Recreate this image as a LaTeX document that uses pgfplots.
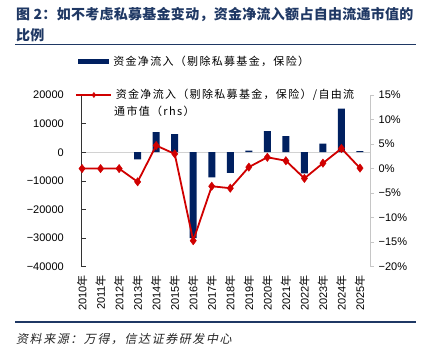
\documentclass[border=0pt]{standalone}
\usepackage{pgfplots}
\pgfplotsset{compat=1.18}
\usepackage{fontspec}
\setmainfont{Liberation Sans}
\newfontfamily\cjk{Noto Sans CJK SC}
\newfontfamily\cjkt[LetterSpace=2]{Noto Sans CJK SC}
\newfontfamily\cjkl[LetterSpace=12]{Noto Sans CJK SC}
\newfontfamily\cjkit[FakeSlant=0.2,LetterSpace=13]{Noto Sans CJK SC}
\definecolor{navy}{HTML}{002060}
\definecolor{redline}{HTML}{D00000}
\definecolor{titleblue}{HTML}{1F3864}
\newcommand{\nian}{{\cjk 年}}
\pgfplotsset{
  redlegend/.style={legend image code/.code={\draw[##1, mark size=2.6bp, mark repeat=2, mark phase=2] plot coordinates {(0bp,0bp) (18bp,0bp) (35bp,0bp)};}}
}
\begin{document}
\begin{tikzpicture}
\path[use as bounding box] (0,0) rectangle (428bp,351bp);
\node[anchor=west, inner sep=0pt, text=titleblue, font={\cjkt\bfseries\fontsize{14bp}{17bp}\selectfont}] at (16bp,336bp) {图 2：如不考虑私募基金变动，资金净流入额占自由流通市值的};
\node[anchor=west, inner sep=0pt, text=titleblue, font={\cjkt\bfseries\fontsize{14bp}{17bp}\selectfont}] at (16bp,316bp) {比例};
\draw[titleblue, line width=1.5bp] (15bp,306.3bp) -- (416bp,306.3bp);
\draw[titleblue, line width=1.5bp] (15bp,29bp) -- (416bp,29bp);
\node[anchor=west, inner sep=0pt, text=black!85, font={\cjkit\fontsize{12bp}{14bp}\selectfont}] at (16bp,12bp) {资料来源：万得，信达证券研发中心};

\begin{axis}[
  at={(81.5bp,84.3bp)}, anchor=south west, scale only axis,
  width=288.5bp, height=171.7bp,
  xmin=-0.03, xmax=15.54, ymin=-40000, ymax=20000,
  scaled y ticks=false,
  axis y line*=left, axis x line*=bottom,
  x axis line style={draw=none},
  y axis line style={draw=black!80, line width=0.6bp},
  ytick={-40000,-30000,-20000,-10000,0,10000,20000},
  yticklabels={−40000,−30000,−20000,−10000,0,10000,20000},
  xtick={0,...,15},
  xticklabels={2010\nian,2011\nian,2012\nian,2013\nian,2014\nian,2015\nian,2016\nian,2017\nian,2018\nian,2019\nian,2020\nian,2021\nian,2022\nian,2023\nian,2024\nian,2025\nian},
  x tick style={draw=none},
  y tick style={draw=black!80, line width=0.6bp},
  tick align=inside, major tick length=4bp,
  yticklabel style={inner sep=0pt, font=\fontsize{11bp}{13bp}\selectfont, anchor=east},
  yticklabel shift=17.5bp,
  xticklabel style={inner sep=0pt, font=\fontsize{11bp}{13bp}\selectfont, rotate=90, anchor=east},
  xticklabel shift=8.3bp,
  extra y ticks={0}, extra y tick labels={},
  extra y tick style={grid=major, major grid style={gray!35, line width=0.8bp}, tick style={draw=none}},
  legend style={at={(-0.0111,1.194)}, anchor=west, draw=none, fill=none, inner sep=0pt, outer sep=0pt, column sep=4bp, nodes={inner sep=0pt}, font={\cjkl\fontsize{11bp}{13bp}\selectfont}},
  legend cell align=left,
]
\addplot[ybar, bar width=7bp, fill=navy, draw=none,
  legend image code/.code={\fill[navy] (0bp,-2.5bp) rectangle (31bp,2.5bp);}]
  coordinates {(3,-2500) (4,7000) (5,6300) (6,-30000) (7,-8800) (8,-7200) (9,600) (10,7400) (11,5600) (12,-7400) (13,3000) (14,15200) (15,400)};
\addlegendentry{资金净流入（剔除私募基金，保险）}
\end{axis}

\begin{axis}[
  at={(81.5bp,84.3bp)}, anchor=south west, scale only axis,
  width=288.5bp, height=171.7bp,
  xmin=-0.03, xmax=15.54, ymin=-20, ymax=15,
  axis y line*=right, axis x line=none,
  y axis line style={draw=gray!45, line width=0.6bp},
  ytick={-20,-15,-10,-5,0,5,10,15},
  yticklabels={−20\%,−15\%,−10\%,−5\%,0\%,5\%,10\%,15\%},
  y tick style={draw=gray!45, line width=0.6bp},
  tick align=outside, major tick length=4bp,
  yticklabel style={inner sep=0pt, font=\fontsize{11bp}{13bp}\selectfont, anchor=west},
  yticklabel shift=4.5bp,
  legend style={at={(-0.0225,1.0)}, anchor=west, draw=none, fill=none, inner sep=0pt, outer sep=0pt, column sep=4bp, nodes={inner sep=0pt}, font={\cjkl\fontsize{11bp}{13bp}\selectfont}},
  legend cell align=left,
  redlegend,
]
\addplot[redline, line width=1.8bp, mark=diamond*, mark size=4.2bp, mark options={fill=redline, draw=redline, line width=0.4bp}]
  coordinates {(0,0) (1,0) (2,0) (3,-2.7) (4,4.7) (5,3.0) (6,-14.7) (7,-3.6) (8,-4.0) (9,0.3) (10,2.3) (11,1.6) (12,-2.0) (13,1.1) (14,4.1) (15,0.1)};
\addlegendentry{资金净流入（剔除私募基金，保险）/自由流}
\end{axis}
\node[anchor=west, inner sep=0pt, font={\cjkl\fontsize{11bp}{13bp}\selectfont}] at (114bp,240bp) {通市值（rhs）};
\end{tikzpicture}
\end{document}
